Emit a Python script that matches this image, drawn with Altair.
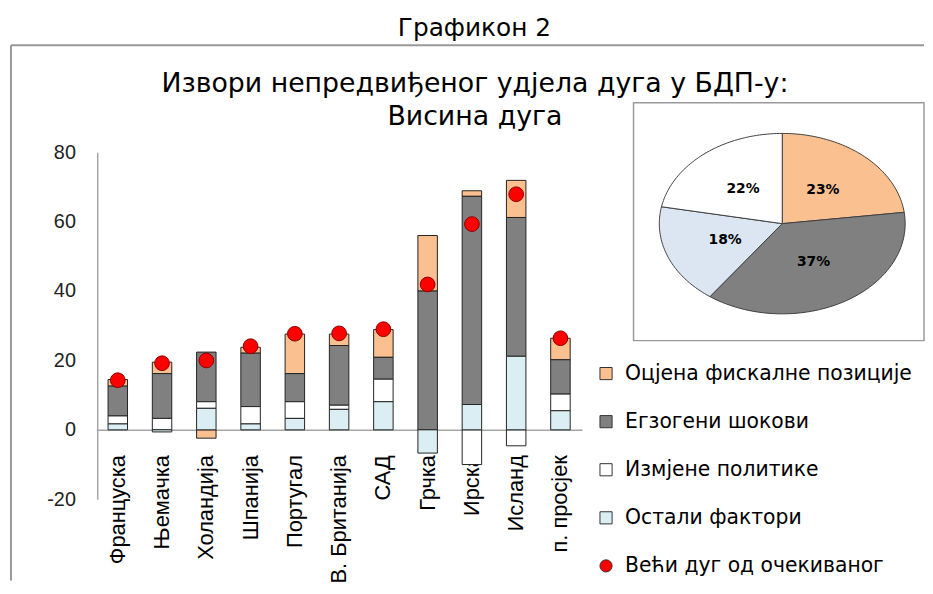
import altair as alt
import numpy as np
import pandas as pd

# ---------------- data ----------------
countries = ["Француска", "Њемачка", "Холандија", "Шпанија", "Португал",
             "В. Британија", "САД", "Грчка", "Ирска", "Исланд", "п. просјек"]
fiscal = [1.9, 3.3, -2.4, 1.7, 11.4, 3.3, 8.0, 16.0, 1.6, 10.7, 6.2]
exogenous = [8.6, 12.9, 14.3, 15.4, 8.1, 17.2, 6.3, 40.0, 60.0, 40.0, 9.9]
policy = [2.3, 3.3, 1.9, 5.0, 4.8, 1.2, 6.5, 0.0, -10.0, -4.6, 4.8]
other = [1.7, -0.6, 6.2, 1.7, 3.3, 5.9, 8.1, -6.7, 7.3, 21.2, 5.5]
higher_debt = [14.3, 19.2, 20.0, 24.1, 27.7, 27.8, 29.0, 41.9, 59.3, 67.9, 26.4]

components = ["Оцјена фискалне позиције", "Егзогени шокови", "Измјене политике", "Остали фактори"]
dot_name = "Већи дуг од очекиваног"
comp_colors = ["#FAC090", "#808080", "#FFFFFF", "#DAEEF3"]
dot_color = "#FF0000"
stack_order = [3, 2, 1, 0]

pie_shares = [23, 37, 18, 22]
pie_labels = ["23%", "37%", "18%", "22%"]
pie_colors = ["#FAC090", "#808080", "#DCE6F2", "#FFFFFF"]

title_main = "Графикон 2"
heading = ["Извори непредвиђеног удјела дуга у БДП-у:", "Висина дуга"]
y_ticks = [-20, 0, 20, 40, 60, 80]

# ---------------- tables ----------------
rows = []
for i, c in enumerate(countries):
    for comp, vals, o in zip(components, [fiscal, exogenous, policy, other], stack_order):
        if vals[i] != 0:
            rows.append({"country": c, "component": comp, "value": vals[i], "ord": o})
bars_df = pd.DataFrame(rows)
dots_df = pd.DataFrame({"country": countries, "dot": higher_debt, "series": dot_name})

RX = 124 / 91  # ellipse aspect of the tilted pie
features = []
lab_rows = []
start = 0.0
for share, lab, col in zip(pie_shares, pie_labels, pie_colors):
    end = start + share / sum(pie_shares)
    th = np.linspace(start * 2 * np.pi, end * 2 * np.pi, 60)
    ring = [[0.0, 0.0]] + [[float(RX * np.sin(t)), float(np.cos(t))] for t in th] + [[0.0, 0.0]]
    features.append({"type": "Feature", "properties": {"fill": col, "name": lab},
                     "geometry": {"type": "Polygon", "coordinates": [ring]}})
    mid = (start + end) / 2 * 2 * np.pi
    lab_rows.append({"label": lab, "lon": float(0.5 * RX * np.sin(mid)), "lat": float(0.5 * np.cos(mid))})
    start = end
pie_lab_df = pd.DataFrame(lab_rows)

# ---------------- layout ----------------
W, H = 921, 540
one = pd.DataFrame({"k": [0]})

legend_domain = components + [dot_name]
color_scale = alt.Scale(domain=legend_domain, range=comp_colors + [dot_color])
shape_scale = alt.Scale(domain=legend_domain, range=["square"] * 4 + ["circle"])
legend = alt.Legend(title=None, orient="none", legendX=590, legendY=321, padding=0,
                    symbolSize=150, symbolStrokeColor="#333333", symbolStrokeWidth=1,
                    labelFont="DejaVu Sans", labelFontSize=20.5, labelColor="black",
                    labelOffset=9, rowPadding=27.5, labelLimit=400)

x_enc = alt.X("country:N", sort=countries,
              scale=alt.Scale(range=[86, 576], paddingInner=0.56, paddingOuter=0.267),
              axis=alt.Axis(orient="bottom", offset=-152, labelAngle=-90, labelAlign="right",
                            labelBaseline="middle", labelPadding=25, ticks=False,
                            domainColor="#A6A6A6", domainWidth=1.5, labelFont="Liberation Sans",
                            labelFontSize=22, labelColor="black", title=None))
y_scale = alt.Scale(domain=[-20, 80], range=[458, 108], nice=False, zero=False)

box_top = alt.Chart(one).mark_rule(color="#999999", strokeWidth=2).encode(
    x=alt.value(0), x2=alt.value(W), y=alt.value(0))
box_left = alt.Chart(one).mark_rule(color="#999999", strokeWidth=2).encode(
    x=alt.value(0), y=alt.value(0), y2=alt.value(H))

bars = alt.Chart(bars_df).mark_bar(stroke="#222222", strokeWidth=1).encode(
    x=x_enc,
    y=alt.Y("value:Q", stack="zero", scale=y_scale,
            axis=alt.Axis(values=y_ticks, offset=-87, ticks=False, grid=False, labelPadding=22,
                          labelExpr="'' + datum.value",
                          labelFont="Liberation Sans", labelFontSize=20, labelColor="#222222",
                          domainColor="#A6A6A6", domainWidth=1.5, title=None)),
    color=alt.Color("component:N", scale=color_scale, legend=legend),
    order=alt.Order("ord:Q"),
)

dots = alt.Chart(dots_df).mark_point(filled=True, size=220, stroke="#8B0000",
                                     strokeWidth=1, opacity=1).encode(
    x=alt.X("country:N", sort=countries),
    y=alt.Y("dot:Q", scale=y_scale),
    color=alt.Color("series:N", scale=color_scale, legend=legend),
    shape=alt.Shape("series:N", scale=shape_scale, legend=legend),
)

pie_frame = alt.Chart(one).mark_rect(fill="white", stroke="#999999", strokeWidth=1.5).encode(
    x=alt.value(628), x2=alt.value(W), y=alt.value(58), y2=alt.value(298))

proj = alt.Projection(type="identity", scale=91, translate=[778, 180], reflectY=True)
pie = alt.Chart(alt.Data(values=features)).mark_geoshape(stroke="#404040", strokeWidth=1).encode(
    fill=alt.Fill("properties.fill:N", scale=None)).project(**proj.to_dict())
pie_text = alt.Chart(pie_lab_df).mark_text(font="DejaVu Sans", fontWeight="bold", fontSize=14,
                                           color="black").encode(
    longitude="lon:Q", latitude="lat:Q", text="label:N").project(**proj.to_dict())

head1 = alt.Chart(one).mark_text(font="DejaVu Sans", fontSize=27, color="black").encode(
    x=alt.value(468), y=alt.value(39), text=alt.value(heading[0]))
head2 = alt.Chart(one).mark_text(font="DejaVu Sans", fontSize=27, color="black").encode(
    x=alt.value(468), y=alt.value(72), text=alt.value(heading[1]))

chart = alt.layer(box_top, box_left, pie_frame, bars, dots, pie, pie_text, head1, head2).properties(
    width=W, height=H,
    padding={"left": 2, "top": 6, "right": 0, "bottom": 0},
    title=alt.TitleParams(text=title_main, font="DejaVu Sans", fontSize=25, fontWeight="normal",
                          color="black", anchor="middle", offset=3, dx=7),
).configure_view(stroke=None)

chart.save("out.html", embed_options={"renderer": "svg", "actions": False})
